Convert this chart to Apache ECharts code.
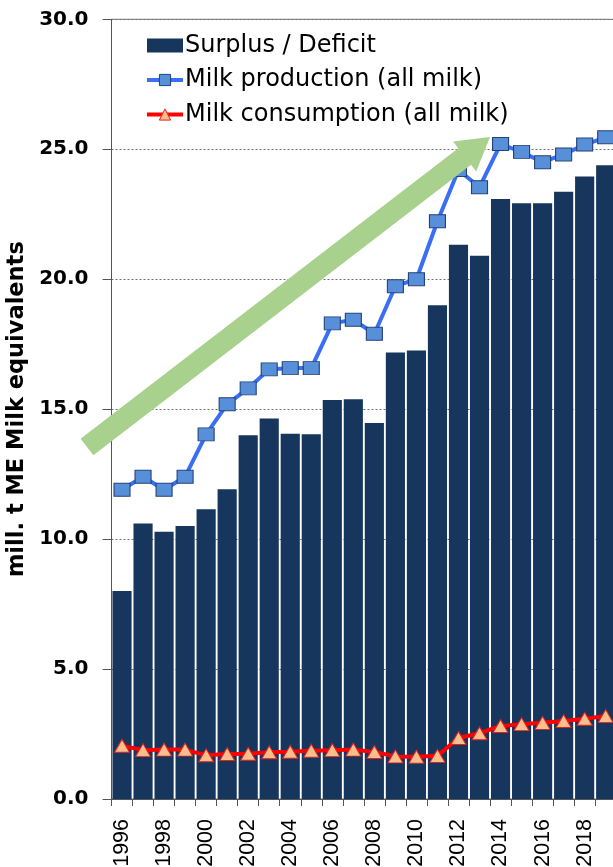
<!DOCTYPE html>
<html>
<head>
<meta charset="utf-8">
<script src="https://cdn.jsdelivr.net/npm/echarts@6/dist/echarts.min.js"></script>
<style>
  html, body { margin: 0; padding: 0; background: #ffffff; }
  #chart { width: 613px; height: 867px; }
</style>
</head>
<body>
<div id="chart"></div>
<script>
// Years on the category axis
const years = ['1996','1997','1998','1999','2000','2001','2002','2003','2004','2005','2006','2007',
               '2008','2009','2010','2011','2012','2013','2014','2015','2016','2017','2018','2019'];

// Surplus / deficit (mill. t ME)
const surplus = [8.0, 10.6, 10.28, 10.5, 11.15, 11.92, 14.0, 14.64, 14.05, 14.03, 15.35, 15.38,
                 14.47, 17.18, 17.26, 19.0, 21.33, 20.9, 23.09, 22.92, 22.92, 23.36, 23.95, 24.38];

// Milk production, all milk (mill. t ME)
const production = [11.9, 12.4, 11.9, 12.4, 14.03, 15.19, 15.8, 16.53, 16.58, 16.58, 18.3, 18.44,
                    17.9, 19.73, 20.0, 22.23, 24.2, 23.54, 25.2, 24.9, 24.5, 24.8, 25.18, 25.46];

// Milk consumption, all milk (mill. t ME)
const consumption = [2.05, 1.88, 1.9, 1.9, 1.68, 1.73, 1.74, 1.8, 1.82, 1.86, 1.88, 1.9,
                     1.81, 1.64, 1.63, 1.66, 2.35, 2.53, 2.81, 2.88, 2.93, 3.0, 3.09, 3.19];

// Value-axis ticks
const yTicks = [0, 5, 10, 15, 20, 25, 30];

const seriesNames = ['Surplus / Deficit', 'Milk production (all milk)', 'Milk consumption (all milk)'];
const axisTitle = 'mill. t ME Milk equivalents';

const barColor = '#17365d';
const prodLine = '#3a6ff5', prodFill = '#578fd8', prodEdge = '#24427a';
const consLine = '#ff0000', consFill = '#fbbe8c', consEdge = '#e4201b';

const chart = echarts.init(document.getElementById('chart'), null, { renderer: 'canvas' });

// Trend arrow built from tail centre, tip, shaft half-width, head length and head half-width
function arrowPoints(tail, tip, halfShaft, headLen, halfHead) {
  const dx = tip[0] - tail[0], dy = tip[1] - tail[1];
  const len = Math.hypot(dx, dy);
  const ux = dx / len, uy = dy / len;
  const nx = -uy, ny = ux;
  const sx = tip[0] - headLen * ux, sy = tip[1] - headLen * uy;
  return [
    [tail[0] + halfShaft * nx, tail[1] + halfShaft * ny],
    [sx + halfShaft * nx, sy + halfShaft * ny],
    [sx + halfHead * nx, sy + halfHead * ny],
    [tip[0], tip[1]],
    [sx - halfHead * nx, sy - halfHead * ny],
    [sx - halfShaft * nx, sy - halfShaft * ny],
    [tail[0] - halfShaft * nx, tail[1] - halfShaft * ny]
  ];
}

chart.setOption({
  backgroundColor: '#ffffff',
  animation: false,
  grid: {
    left: 111.5,
    right: -3.2,
    top: 19.3,
    bottom: 68,
    containLabel: false,
    outerBoundsMode: 'none',
    show: true,
    borderColor: '#7a7a7a',
    borderWidth: 1,
    backgroundColor: 'transparent'
  },
  legend: {
    orient: 'vertical',
    left: 140,
    top: 28,
    itemWidth: 36,
    itemHeight: 14,
    itemGap: 9.5,
    itemStyle: { borderWidth: 1 },
    data: [
      { name: seriesNames[0], icon: 'rect', itemStyle: { color: barColor, borderWidth: 0 } },
      {
        name: seriesNames[1],
        itemStyle: { color: prodFill, borderColor: prodEdge, borderWidth: 1 },
        lineStyle: { color: prodLine, width: 4 }
      },
      {
        name: seriesNames[2],
        itemStyle: { color: consFill, borderColor: consEdge, borderWidth: 1 },
        lineStyle: { color: consLine, width: 4 }
      }
    ],
    textStyle: {
      fontFamily: 'DejaVu Sans',
      fontSize: 24,
      lineHeight: 25,
      color: '#000000',
      padding: [0, 0, 0, -3]
    }
  },
  xAxis: {
    type: 'category',
    data: years,
    boundaryGap: true,
    axisLine: { show: true, lineStyle: { color: '#555555', width: 1 } },
    axisTick: { show: true, interval: 0, length: 7, lineStyle: { color: '#555555' } },
    axisLabel: {
      interval: 1,
      rotate: 90,
      margin: 20,
      fontFamily: 'Arial, "Liberation Sans", sans-serif',
      fontSize: 21.5,
      color: '#000000'
    }
  },
  yAxis: {
    type: 'value',
    min: yTicks[0],
    max: yTicks[yTicks.length - 1],
    interval: yTicks[1] - yTicks[0],
    name: axisTitle,
    nameLocation: 'middle',
    nameGap: 78,
    nameRotate: 90,
    nameTextStyle: {
      fontFamily: 'DejaVu Sans',
      fontWeight: 'bold',
      fontSize: 22.5,
      color: '#000000'
    },
    axisLine: { show: true, lineStyle: { color: '#555555', width: 1 } },
    axisTick: { show: true, length: 9, lineStyle: { color: '#555555' } },
    axisLabel: {
      margin: 23,
      fontFamily: 'DejaVu Sans',
      fontWeight: 'bold',
      fontSize: 20,
      color: '#000000',
      formatter: v => v.toFixed(1)
    },
    splitLine: { show: true, lineStyle: { type: [2, 2], color: '#6e6e6e', width: 1 } }
  },
  series: [
    {
      name: seriesNames[0],
      type: 'bar',
      data: surplus,
      barCategoryGap: '9%',
      itemStyle: { color: barColor },
      z: 2
    },
    {
      name: seriesNames[1],
      type: 'line',
      data: production,
      symbol: 'rect',
      symbolSize: [16, 13],
      lineStyle: { color: prodLine, width: 4 },
      itemStyle: { color: prodFill, borderColor: prodEdge, borderWidth: 1 },
      z: 4
    },
    {
      name: seriesNames[2],
      type: 'line',
      data: consumption,
      symbol: 'triangle',
      symbolSize: [15, 13],
      lineStyle: { color: consLine, width: 4 },
      itemStyle: { color: consFill, borderColor: consEdge, borderWidth: 1 },
      z: 5
    }
  ],
  graphic: [
    {
      type: 'polygon',
      z: 100,
      silent: true,
      shape: { points: arrowPoints([87, 447], [490, 137], 10.5, 32, 19) },
      style: { fill: '#a9d18e' }
    }
  ]
});
</script>
</body>
</html>
